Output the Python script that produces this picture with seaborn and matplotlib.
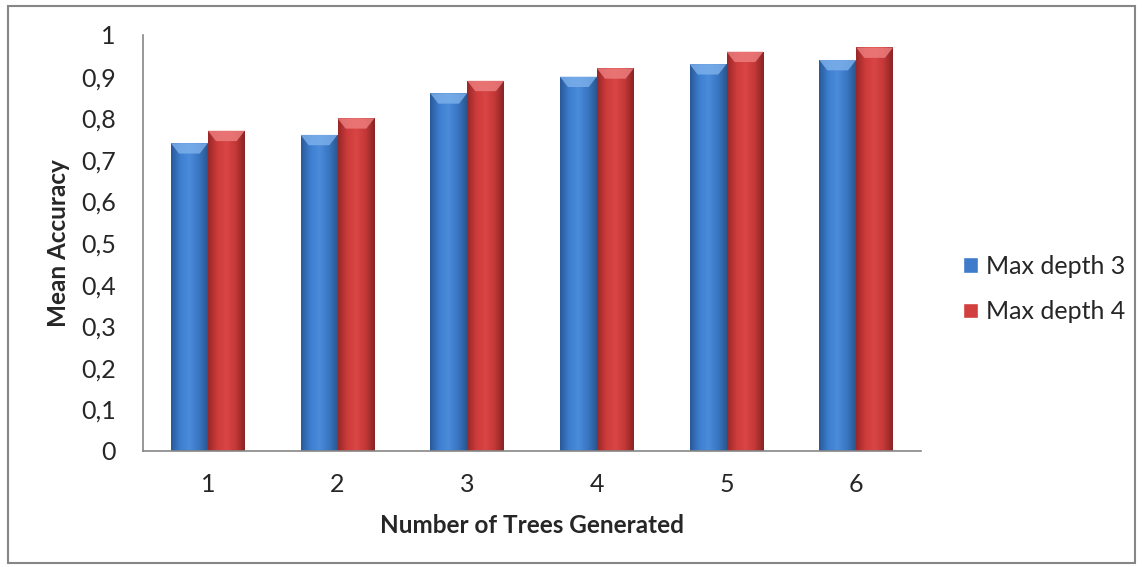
import numpy as np
import pandas as pd
import matplotlib
matplotlib.use("Agg")
import matplotlib.pyplot as plt
import seaborn as sns
from matplotlib.patches import Rectangle, Polygon
from matplotlib.colors import LinearSegmentedColormap

categories = ["1", "2", "3", "4", "5", "6"]
depth3 = [0.74, 0.76, 0.86, 0.90, 0.93, 0.94]
depth4 = [0.77, 0.80, 0.89, 0.92, 0.96, 0.97]
series_names = ["Max depth 3", "Max depth 4"]
y_ticks = [0, 0.1, 0.2, 0.3, 0.4, 0.5, 0.6, 0.7, 0.8, 0.9, 1.0]
y_tick_labels = ["0", "0,1", "0,2", "0,3", "0,4", "0,5", "0,6", "0,7", "0,8", "0,9", "1"]

df = pd.DataFrame({
    "trees": categories * 2,
    "acc": depth3 + depth4,
    "series": [series_names[0]] * 6 + [series_names[1]] * 6,
})

sns.set_theme(style="white")
plt.rcParams["font.family"] = ["Lato", "DejaVu Sans"]

fig = plt.figure(figsize=(11.42, 5.67), dpi=100)
ax = fig.add_axes([143 / 1142, 1 - 451 / 567, (921 - 143) / 1142, (451 - 35) / 567])

palette = {series_names[0]: "#3E7CCB", series_names[1]: "#D23F3F"}
sns.barplot(data=df, x="trees", y="acc", hue="series", palette=palette,
            width=0.57, ax=ax, legend=True, saturation=1)

# gradient shading on bars
cmaps = {
    "#3E7CCB": LinearSegmentedColormap.from_list("b", ["#2A5A98", "#3D7ECF", "#4A8BDA", "#3A77C4", "#2A5790"]),
    "#D23F3F": LinearSegmentedColormap.from_list("r", ["#9A2828", "#CD3B3B", "#DA4545", "#C53838", "#8A2424"]),
}
tops = {"#3E7CCB": "#7FB2EC", "#D23F3F": "#EE8080"}
grad = np.linspace(0, 1, 64).reshape(1, -1)
for p in list(ax.patches):
    if p.get_height() <= 0:
        continue
    fc = matplotlib.colors.to_hex(p.get_facecolor()).upper()
    cm = cmaps.get(fc)
    if cm is None:
        continue
    x0, w, h = p.get_x(), p.get_width(), p.get_height()
    im = ax.imshow(grad, cmap=cm, extent=[x0, x0 + w, 0, h], aspect="auto", zorder=p.get_zorder() + 0.1)
    im.set_clip_path(p)
    p.set_edgecolor("none")
    # bevelled top
    d = 0.025
    bevel = Polygon([[x0, h], [x0 + w, h], [x0 + w * 0.78, h - d], [x0 + w * 0.22, h - d]],
                    closed=True, facecolor=tops[fc], edgecolor="none", alpha=0.8,
                    zorder=p.get_zorder() + 0.2)
    ax.add_patch(bevel)

ax.set_xlim(-0.5, 5.5)
ax.set_ylim(0, 1)
ax.set_yticks(y_ticks)
ax.set_yticklabels(y_tick_labels)
ax.tick_params(axis="y", direction="out", length=6.5, color="#868686", width=1.2, labelsize=18, pad=13)
ax.tick_params(axis="x", length=0, labelsize=18, pad=16)
for s in ["top", "right"]:
    ax.spines[s].set_visible(False)
for s in ["left", "bottom"]:
    ax.spines[s].set_color("#868686")
    ax.spines[s].set_linewidth(1.2)

ax.set_xlabel("Number of Trees Generated", fontsize=17.5, fontweight="bold", labelpad=13)
ax.set_ylabel("Mean Accuracy", fontsize=17.5, fontweight="bold", labelpad=8)

handles, labels = ax.get_legend_handles_labels()
ax.legend(handles, labels, loc="center left", bbox_to_anchor=((963 - 143) / 778, (451 - 289) / 416),
          frameon=False, borderaxespad=0, borderpad=0,
          fontsize=18, handlelength=0.6, handleheight=0.6, handletextpad=0.32, labelspacing=0.9)

# outer chart border
fig.patches.append(Rectangle((8 / 1142, 4 / 567), 1127 / 1142, 557 / 567, transform=fig.transFigure,
                             fill=False, edgecolor="#868686", linewidth=1.5))

fig.savefig("out.png", dpi=100)
